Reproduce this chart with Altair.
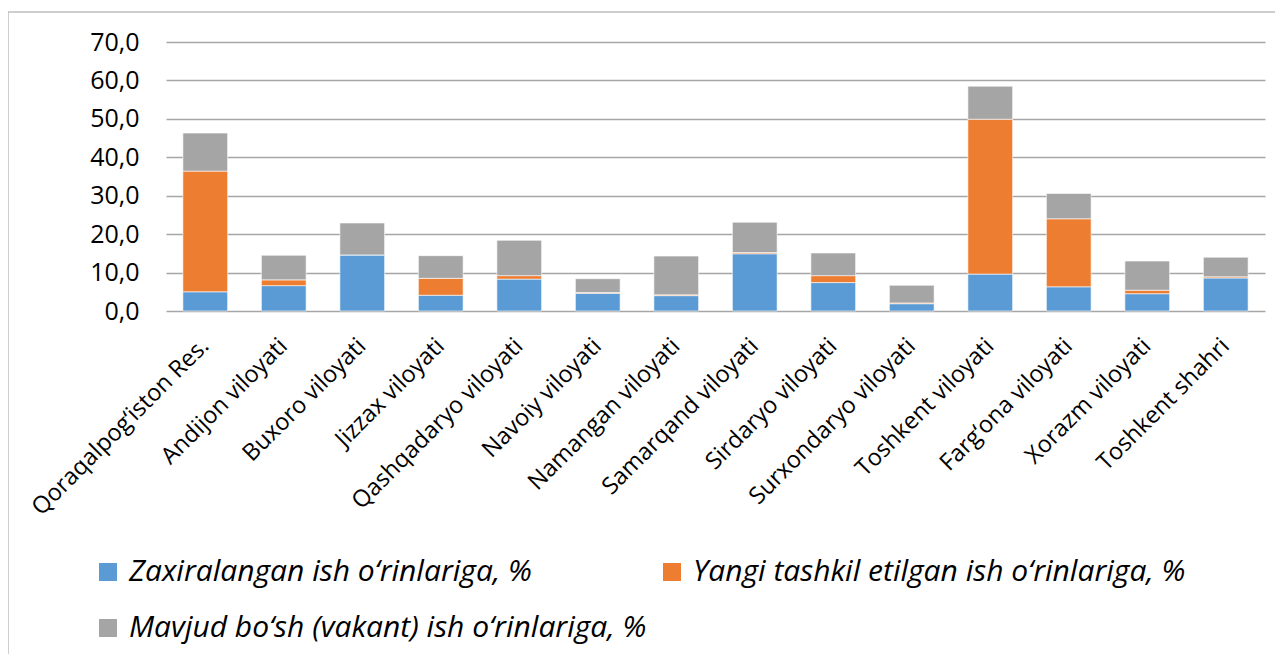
import altair as alt
import pandas as pd

regions = [
    "Qoraqalpog‘iston Res.", "Andijon viloyati", "Buxoro viloyati", "Jizzax viloyati",
    "Qashqadaryo viloyati", "Navoiy viloyati", "Namangan viloyati", "Samarqand viloyati",
    "Sirdaryo viloyati", "Surxondaryo viloyati", "Toshkent viloyati", "Farg‘ona viloyati",
    "Xorazm viloyati", "Toshkent shahri",
]
series_names = [
    "Zaxiralangan ish o‘rinlariga, %",
    "Yangi tashkil etilgan ish o‘rinlariga, %",
    "Mavjud bo‘sh (vakant) ish o‘rinlariga, %",
]
zaxiralangan = [5.0, 6.6, 14.6, 4.1, 8.3, 4.6, 4.0, 14.9, 7.4, 1.9, 9.6, 6.3, 4.5, 8.6]
yangi = [31.4, 1.5, 0.0, 4.4, 0.9, 0.2, 0.2, 0.3, 1.8, 0.2, 40.3, 17.7, 0.9, 0.3]
mavjud = [9.9, 6.4, 8.3, 5.9, 9.2, 3.6, 10.1, 7.9, 5.9, 4.6, 8.6, 6.6, 7.6, 5.1]
colors = ["#5b9bd5", "#ed7d31", "#a5a5a5"]

rows = []
for i, r in enumerate(regions):
    for k, (name, vals) in enumerate(zip(series_names, [zaxiralangan, yangi, mavjud])):
        rows.append({"region": r, "series": name, "value": vals[i], "order": k})
df = pd.DataFrame(rows)

W, H = 1099, 269

bars = alt.Chart(df).mark_bar(stroke="white", strokeWidth=0.6).encode(
    x=alt.X("region:N", sort=regions, title=None,
            scale=alt.Scale(paddingInner=0.43, paddingOuter=0.215),
            axis=alt.Axis(labelAngle=-45, labelAlign="right", labelBaseline="middle",
                          labelPadding=31, ticks=False, domain=False, grid=False,
                          labelFont="Open Sans", labelFontSize=23.5, labelColor="#000000",
                          labelLimit=0)),
    y=alt.Y("value:Q", stack="zero", title=None,
            scale=alt.Scale(domain=[0, 70], nice=False),
            axis=alt.Axis(values=[0, 10, 20, 30, 40, 50, 60, 70],
                          labelExpr="replace(format(datum.value, '.1f'), '.', ',')",
                          ticks=False, domain=False, grid=True, gridColor="#a6a6a6",
                          gridWidth=1.3, labelPadding=27, labelFont="Open Sans",
                          labelFontSize=25, labelColor="#000000")),
    color=alt.Color("series:N", sort=series_names,
                    scale=alt.Scale(domain=series_names, range=colors),
                    legend=alt.Legend(title=None, orient="none", legendX=-73, legendY=515,
                                      direction="horizontal",
                                      columns=2, columnPadding=10, rowPadding=26,
                                      symbolType="square", symbolSize=324,
                                      symbolStrokeWidth=0, labelFont="Open Sans",
                                      labelFontStyle="italic", labelFontSize=30,
                                      labelColor="#000000", labelOffset=6, labelLimit=0)),
    order=alt.Order("order:Q"),
)

frame = alt.Chart(pd.DataFrame({"a": [0]})).mark_rect(
    fill=None, stroke="#bfbfbf", strokeWidth=1.5, clip=False
).encode(
    x=alt.value(-158), x2=alt.value(W + 60), y=alt.value(-30), y2=alt.value(H + 400)
)

chart = alt.layer(frame, bars).properties(
    width=W, height=H,
    padding={"left": 158, "top": 34, "right": 10, "bottom": 343},
    autosize=alt.AutoSizeParams(type="none"),
).configure_view(stroke=None)

chart.save("out.html", embed_options={"renderer": "svg", "actions": False})
